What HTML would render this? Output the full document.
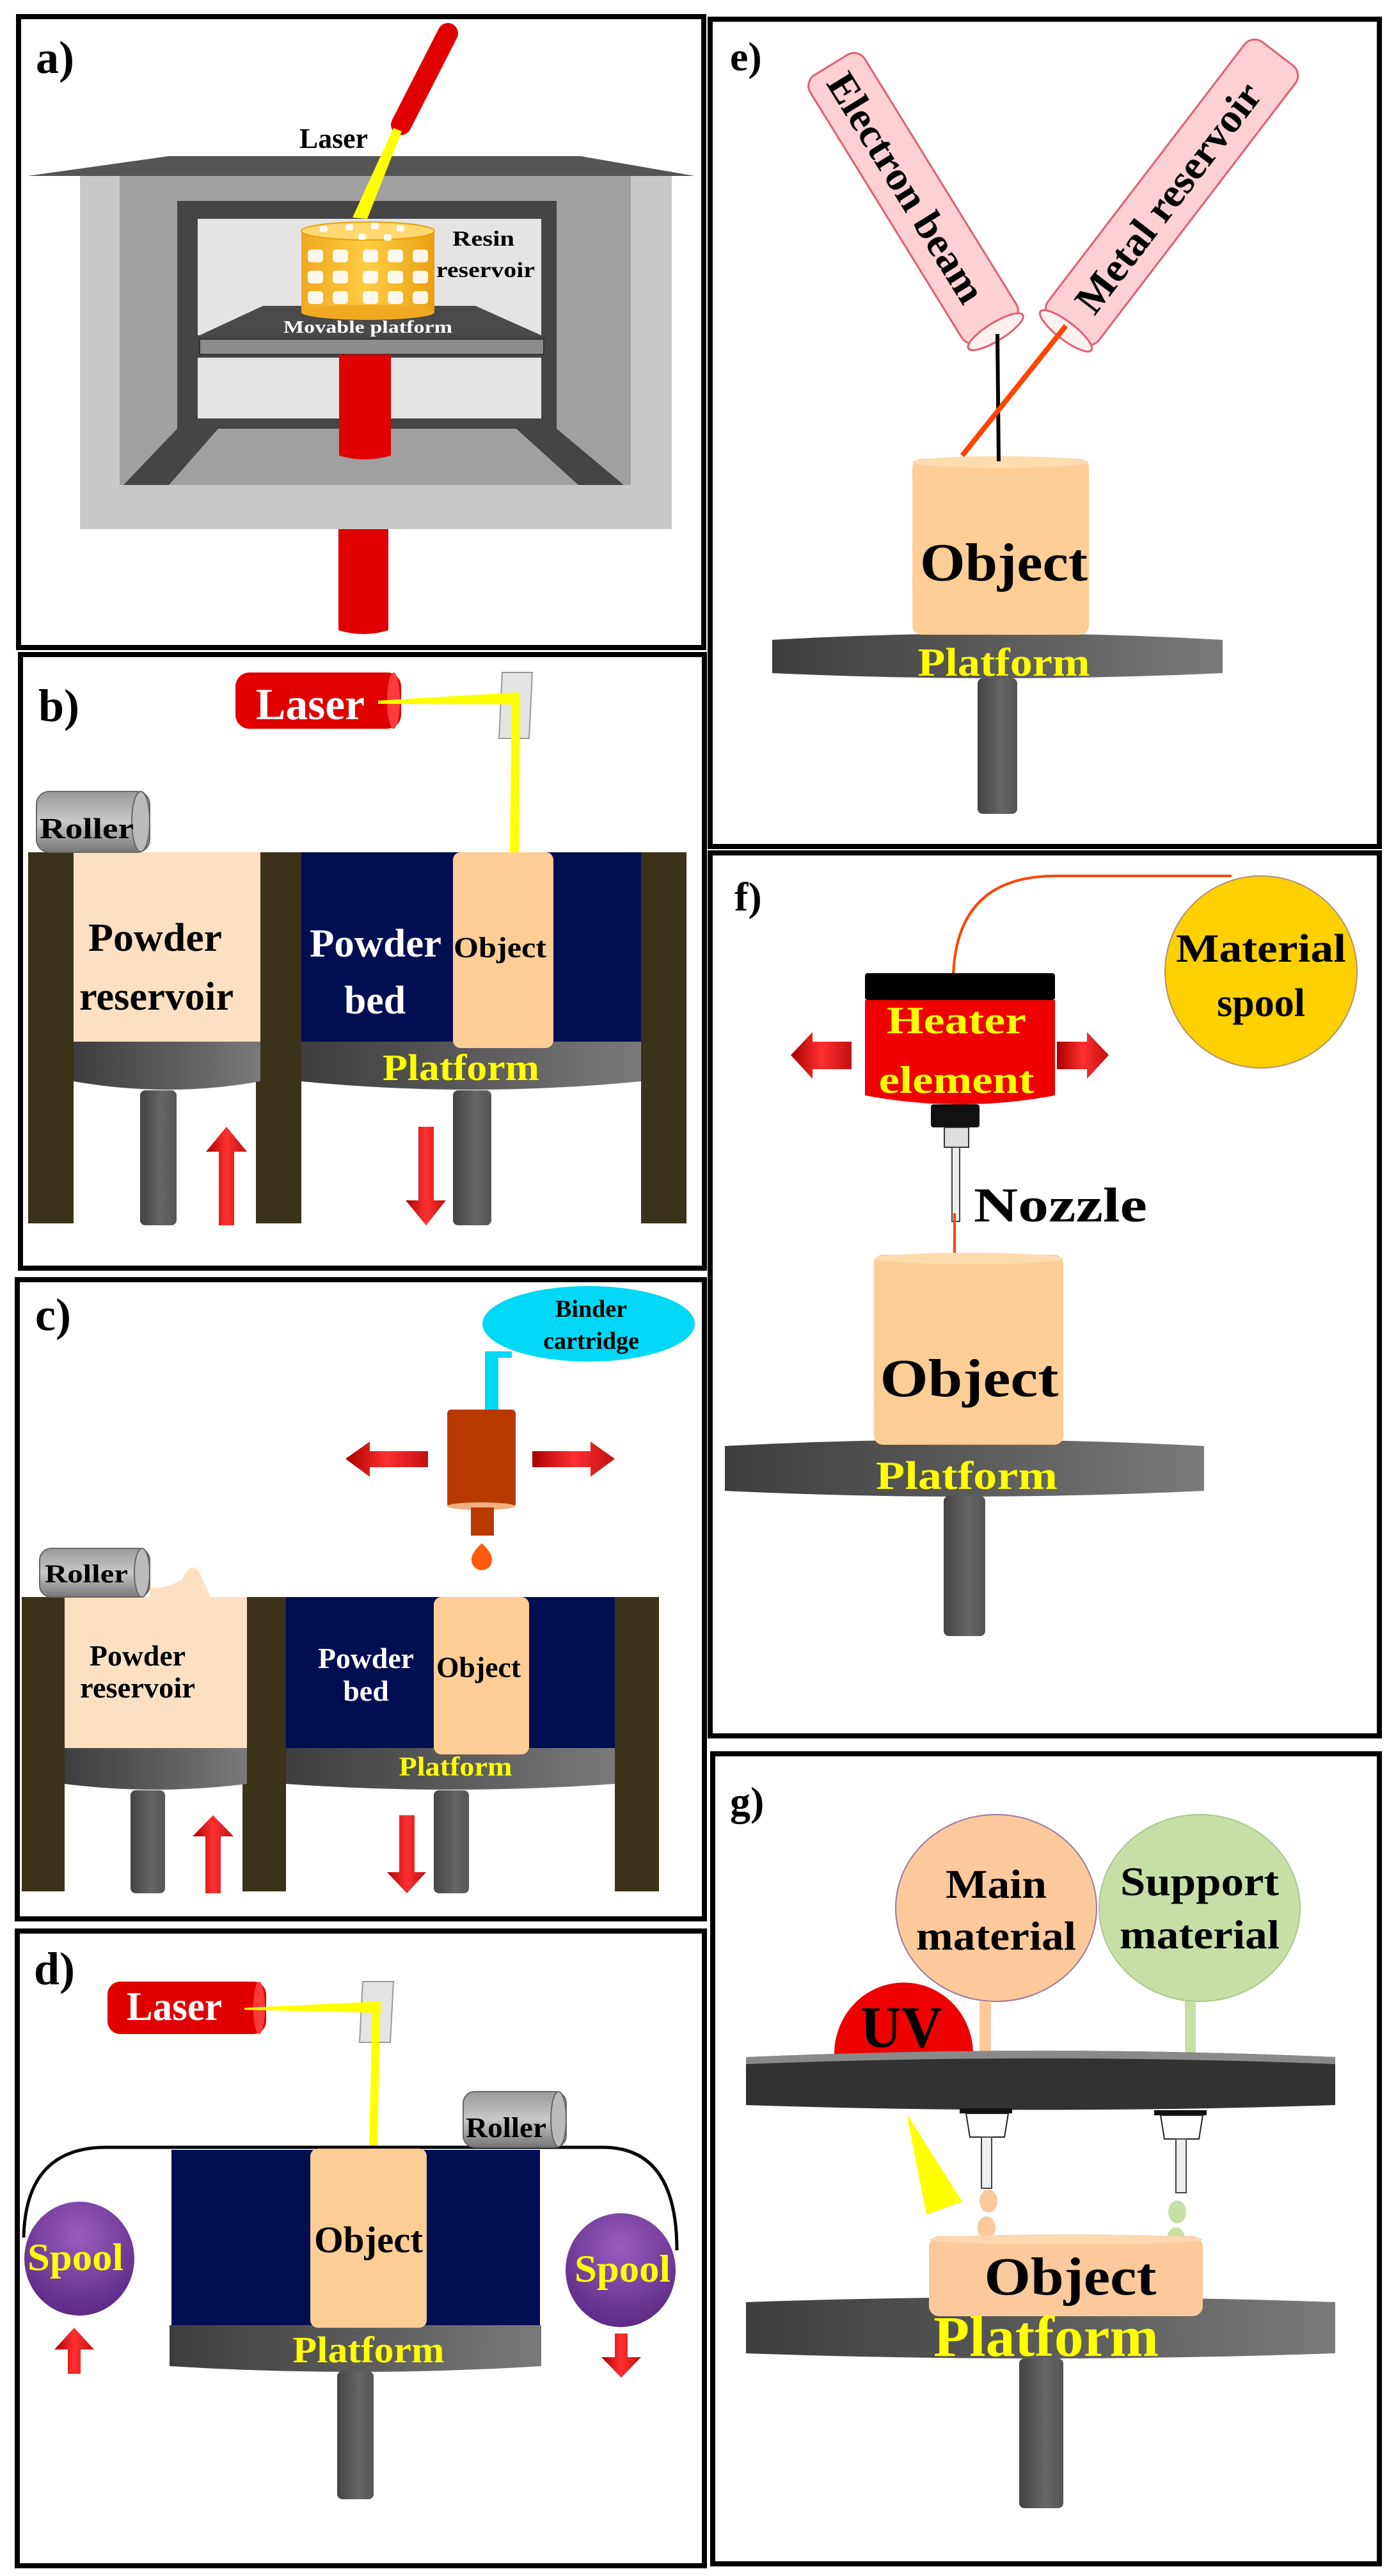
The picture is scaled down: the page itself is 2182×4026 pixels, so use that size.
<!DOCTYPE html>
<html><head><meta charset="utf-8"><style>
html,body{margin:0;padding:0;background:#fff}
svg{display:block}
text{font-family:"Liberation Serif",serif;font-weight:bold}
</style></head><body>
<svg width="2182" height="4026" viewBox="0 0 2182 4026" xmlns="http://www.w3.org/2000/svg">
<defs>
<linearGradient id="gp" x1="0" y1="0" x2="1" y2="0"><stop offset="0" stop-color="#3e3e3e"/><stop offset="0.5" stop-color="#5a5a5a"/><stop offset="1" stop-color="#7a7a7a"/></linearGradient>
<linearGradient id="gs" x1="0" y1="0" x2="1" y2="0"><stop offset="0" stop-color="#444"/><stop offset="0.6" stop-color="#666"/><stop offset="1" stop-color="#555"/></linearGradient>
<linearGradient id="gr" x1="0" y1="0" x2="0" y2="1"><stop offset="0" stop-color="#9a9a9a"/><stop offset="0.5" stop-color="#c8c8c8"/><stop offset="1" stop-color="#777"/></linearGradient>
<linearGradient id="ga" x1="0" y1="0" x2="1" y2="0"><stop offset="0" stop-color="#a80000"/><stop offset="0.5" stop-color="#ff3030"/><stop offset="1" stop-color="#c01010"/></linearGradient>
<linearGradient id="gy" x1="0" y1="0" x2="1" y2="0"><stop offset="0" stop-color="#f0a820"/><stop offset="0.5" stop-color="#ffcc44"/><stop offset="1" stop-color="#e8a010"/></linearGradient>
<radialGradient id="gsp" cx="0.5" cy="0.3" r="0.7"><stop offset="0" stop-color="#9a5cc0"/><stop offset="1" stop-color="#5d2a85"/></radialGradient>
</defs>
<g fill="none" stroke="#000" stroke-width="8">
<rect x="29" y="26" width="1071" height="986"/>
<rect x="32" y="1023" width="1069" height="959"/>
<rect x="27" y="2000" width="1074" height="999"/>
<rect x="27" y="3018" width="1074" height="992"/>
<rect x="1110" y="30" width="1046" height="1293"/>
<rect x="1110" y="1333" width="1046" height="1380"/>
<rect x="1114" y="2741" width="1042" height="1266"/>
</g>

<!-- Panel a -->
<text x="56" y="114" font-size="72">a)</text>
<polygon points="43,275 264,244 907,244 1086,275" fill="#555"/>
<rect x="125" y="275" width="925" height="552" fill="#c8c8c8"/>
<rect x="187" y="275" width="799" height="483" fill="#a0a0a0"/>
<polygon points="277,314 870,314 870,670 975,758 193,758 277,670" fill="#454545"/>
<polygon points="341,670 807,670 904,758 264,758" fill="#a0a0a0"/>
<rect x="309" y="342" width="537" height="182" fill="#e4e4e4"/>
<rect x="309" y="559" width="537" height="95" fill="#e4e4e4"/>
<polygon points="411,478 743,478 846,524 312,524" fill="#4a4a4a"/>
<rect x="312" y="530" width="538" height="24" fill="#8c8c8c" stroke="#333" stroke-width="2"/>
<path d="M530,554 H611 V712 Q570,724 530,712 Z" fill="#e00000"/>
<path d="M529,827 H607 V985 Q568,997 529,985 Z" fill="#e00000"/>
<line x1="627" y1="195" x2="700" y2="52" stroke="#e00000" stroke-width="32" stroke-linecap="round"/>
<polygon points="615,200 628,205 574,342 551,340" fill="#ffff00"/>
<text x="468" y="231" font-size="44" textLength="107" lengthAdjust="spacingAndGlyphs">Laser</text>
<rect x="471" y="361" width="208" height="127" fill="url(#gy)"/>
<ellipse cx="575" cy="488" rx="104" ry="12" fill="#f0a820"/>
<ellipse cx="575" cy="361" rx="104" ry="14" fill="#ffd870" stroke="#e8a010" stroke-width="2"/>
<g fill="#fff" opacity="0.9">
<rect x="481" y="390" width="24" height="20" rx="5"/><rect x="520" y="390" width="24" height="20" rx="5"/><rect x="567" y="390" width="24" height="20" rx="5"/><rect x="606" y="390" width="24" height="20" rx="5"/><rect x="645" y="390" width="24" height="20" rx="5"/>
<rect x="481" y="423" width="24" height="20" rx="5"/><rect x="520" y="423" width="24" height="20" rx="5"/><rect x="567" y="423" width="24" height="20" rx="5"/><rect x="606" y="423" width="24" height="20" rx="5"/><rect x="645" y="423" width="24" height="20" rx="5"/>
<rect x="481" y="455" width="24" height="20" rx="5"/><rect x="520" y="455" width="24" height="20" rx="5"/><rect x="567" y="455" width="24" height="20" rx="5"/><rect x="606" y="455" width="24" height="20" rx="5"/><rect x="645" y="455" width="24" height="20" rx="5"/>
<rect x="500" y="353" width="12" height="10" rx="3"/><rect x="540" y="350" width="12" height="10" rx="3"/><rect x="580" y="348" width="12" height="10" rx="3"/><rect x="620" y="352" width="12" height="10" rx="3"/><rect x="560" y="365" width="12" height="10" rx="3"/><rect x="600" y="366" width="12" height="10" rx="3"/>
</g>
<text x="707" y="384" font-size="34" textLength="97" lengthAdjust="spacingAndGlyphs">Resin</text>
<text x="682" y="433" font-size="34" textLength="154" lengthAdjust="spacingAndGlyphs">reservoir</text>
<text x="443" y="520" font-size="27" fill="#fff" textLength="264" lengthAdjust="spacingAndGlyphs">Movable platform</text>

<!-- Panel b -->
<text x="60" y="1127" font-size="72">b)</text>
<rect x="368" y="1051" width="259" height="88" rx="22" fill="#e00000"/>
<ellipse cx="615" cy="1095" rx="10" ry="44" fill="#ff3a3a"/>
<text x="400" y="1124" font-size="70" fill="#fff" textLength="170" lengthAdjust="spacingAndGlyphs">Laser</text>
<polygon points="785,1051 832,1051 827,1154 780,1154" fill="#e4e4e4" stroke="#999" stroke-width="2"/>
<polygon points="591,1095 811,1082 811,1101 591,1100" fill="#ffff00"/>
<polygon points="800,1090 813,1090 811,1334 797,1334" fill="#ffff00"/>
<rect x="44" y="1332" width="71" height="580" fill="#3a3319"/>
<rect x="400" y="1332" width="71" height="580" fill="#3a3319"/>
<rect x="1002" y="1332" width="71" height="580" fill="#3a3319"/>
<rect x="115" y="1332" width="292" height="296" fill="#fde0c2"/>
<rect x="471" y="1332" width="531" height="296" fill="#000e52"/>
<path d="M115,1628 H407 V1690 Q261,1716 115,1690 Z" fill="url(#gp)"/>
<path d="M471,1628 H1002 V1690 Q736,1716 471,1690 Z" fill="url(#gp)"/>
<rect x="708" y="1332" width="157" height="306" rx="12" fill="#fdcd96"/>
<rect x="219" y="1704" width="57" height="211" rx="8" fill="url(#gs)"/>
<rect x="708" y="1704" width="60" height="211" rx="8" fill="url(#gs)"/>
<polygon points="342,1915 366,1915 366,1800 386,1800 354,1761 322,1800 342,1800" fill="url(#ga)"/>
<polygon points="654,1761 678,1761 678,1876 697,1876 666,1915 634,1876 654,1876" fill="url(#ga)"/>
<rect x="57" y="1237" width="177" height="95" rx="20" fill="url(#gr)" stroke="#666" stroke-width="2"/>
<ellipse cx="220" cy="1284" rx="14" ry="47" fill="#bbb" stroke="#666" stroke-width="2"/>
<text x="62" y="1310" font-size="46" textLength="147" lengthAdjust="spacingAndGlyphs">Roller</text>
<text x="138" y="1486" font-size="62" textLength="209" lengthAdjust="spacingAndGlyphs">Powder</text>
<text x="124" y="1578" font-size="62" textLength="241" lengthAdjust="spacingAndGlyphs">reservoir</text>
<text x="484" y="1495" font-size="62" fill="#fff" textLength="206" lengthAdjust="spacingAndGlyphs">Powder</text>
<text x="538" y="1584" font-size="62" fill="#fff" textLength="96" lengthAdjust="spacingAndGlyphs">bed</text>
<text x="709" y="1496" font-size="46" textLength="145" lengthAdjust="spacingAndGlyphs">Object</text>
<text x="598" y="1688" font-size="58" fill="#ffff00" textLength="245" lengthAdjust="spacingAndGlyphs">Platform</text>

<!-- Panel c -->
<text x="55" y="2079" font-size="72">c)</text>
<ellipse cx="920" cy="2069" rx="166" ry="59" fill="#00d8f5"/>
<text x="924" y="2058" font-size="38" text-anchor="middle">Binder</text>
<text x="924" y="2108" font-size="38" text-anchor="middle">cartridge</text>
<polygon points="758,2112 800,2112 800,2122 779,2122 779,2205 758,2205" fill="#00d8f5"/>
<rect x="699" y="2203" width="107" height="153" rx="6" fill="#b83a00"/>
<ellipse cx="752" cy="2354" rx="53" ry="6" fill="#f0b080"/>
<rect x="736" y="2356" width="36" height="44" fill="#b83a00"/>
<path d="M753,2412 Q770,2428 769,2438 A16,16 0 1 1 737,2438 Q736,2428 753,2412 Z" fill="#ff5a10"/>
<polygon points="540,2280 578,2253 578,2268 669,2268 669,2293 578,2293 578,2308" fill="url(#ga)"/>
<polygon points="961,2280 923,2253 923,2268 832,2268 832,2293 923,2293 923,2308" fill="url(#ga)"/>
<rect x="34" y="2496" width="67" height="460" fill="#3a3319"/>
<rect x="379" y="2496" width="68" height="460" fill="#3a3319"/>
<rect x="961" y="2496" width="69" height="460" fill="#3a3319"/>
<rect x="101" y="2496" width="285" height="236" fill="#fde0c2"/>
<path d="M234,2496 L234,2482 Q265,2482 285,2468 Q298,2440 310,2455 Q322,2478 329,2496 Z" fill="#fde0c2"/>
<rect x="447" y="2496" width="514" height="236" fill="#000e52"/>
<path d="M101,2732 H386 V2788 Q243,2806 101,2788 Z" fill="url(#gp)"/>
<path d="M447,2732 H961 V2788 Q704,2806 447,2788 Z" fill="url(#gp)"/>
<rect x="678" y="2496" width="149" height="246" rx="12" fill="#fdcd96"/>
<rect x="204" y="2798" width="54" height="161" rx="8" fill="url(#gs)"/>
<rect x="678" y="2798" width="55" height="161" rx="8" fill="url(#gs)"/>
<polygon points="321,2959 345,2959 345,2870 365,2870 333,2837 301,2870 321,2870" fill="url(#ga)"/>
<polygon points="624,2837 648,2837 648,2926 666,2926 636,2959 605,2926 624,2926" fill="url(#ga)"/>
<rect x="62" y="2420" width="172" height="76" rx="18" fill="url(#gr)" stroke="#666" stroke-width="2"/>
<ellipse cx="222" cy="2458" rx="12" ry="38" fill="#bbb" stroke="#666" stroke-width="2"/>
<text x="70" y="2473" font-size="40" textLength="130" lengthAdjust="spacingAndGlyphs">Roller</text>
<text x="215" y="2603" font-size="46" text-anchor="middle" textLength="150" lengthAdjust="spacingAndGlyphs">Powder</text>
<text x="215" y="2653" font-size="46" text-anchor="middle" textLength="180" lengthAdjust="spacingAndGlyphs">reservoir</text>
<text x="572" y="2607" font-size="46" fill="#fff" text-anchor="middle" textLength="150" lengthAdjust="spacingAndGlyphs">Powder</text>
<text x="572" y="2658" font-size="46" fill="#fff" text-anchor="middle">bed</text>
<text x="748" y="2621" font-size="46" text-anchor="middle" textLength="132" lengthAdjust="spacingAndGlyphs">Object</text>
<text x="712" y="2775" font-size="42" fill="#ffff00" text-anchor="middle" textLength="177" lengthAdjust="spacingAndGlyphs">Platform</text>

<!-- Panel d -->
<text x="53" y="3101" font-size="72">d)</text>
<rect x="168" y="3097" width="248" height="82" rx="20" fill="#e00000"/>
<ellipse cx="405" cy="3138" rx="9" ry="41" fill="#ff3a3a"/>
<text x="198" y="3157" font-size="64" fill="#fff" textLength="149" lengthAdjust="spacingAndGlyphs">Laser</text>
<polygon points="567,3097 615,3097 610,3192 562,3192" fill="#e4e4e4" stroke="#999" stroke-width="2"/>
<polygon points="382,3138 595,3128 595,3146 382,3141" fill="#ffff00"/>
<polygon points="582,3135 594,3135 590,3358 577,3358" fill="#ffff00"/>
<path d="M37,3497 Q40,3356 166,3356 H942 Q1058,3356 1058,3517" fill="none" stroke="#000" stroke-width="5"/>
<rect x="268" y="3360" width="576" height="274" fill="#000e52"/>
<path d="M265,3634 H846 V3698 Q556,3716 265,3698 Z" fill="url(#gp)"/>
<rect x="485" y="3358" width="182" height="280" rx="12" fill="#fdcd96"/>
<rect x="527" y="3706" width="57" height="200" rx="8" fill="url(#gs)"/>
<rect x="724" y="3269" width="161" height="87" rx="18" fill="url(#gr)" stroke="#666" stroke-width="2"/>
<ellipse cx="873" cy="3312" rx="12" ry="43" fill="#bbb" stroke="#666" stroke-width="2"/>
<text x="728" y="3340" font-size="44" textLength="126" lengthAdjust="spacingAndGlyphs">Roller</text>
<ellipse cx="124" cy="3530" rx="86" ry="89" fill="url(#gsp)"/>
<ellipse cx="970" cy="3548" rx="86" ry="89" fill="url(#gsp)"/>
<text x="118" y="3548" font-size="60" fill="#ffff00" text-anchor="middle" textLength="150" lengthAdjust="spacingAndGlyphs">Spool</text>
<text x="973" y="3566" font-size="60" fill="#ffff00" text-anchor="middle" textLength="150" lengthAdjust="spacingAndGlyphs">Spool</text>
<polygon points="106,3710 126,3710 126,3672 147,3672 116,3638 85,3672 106,3672" fill="url(#ga)"/>
<polygon points="961,3647 981,3647 981,3684 1002,3684 971,3716 940,3684 961,3684" fill="url(#ga)"/>
<text x="576" y="3520" font-size="58" text-anchor="middle" textLength="170" lengthAdjust="spacingAndGlyphs">Object</text>
<text x="576" y="3692" font-size="58" fill="#ffff00" text-anchor="middle" textLength="237" lengthAdjust="spacingAndGlyphs">Platform</text>

<!-- Panel e -->
<text x="1141" y="110" font-size="64">e)</text>
<g transform="translate(1304,110) rotate(58.3)">
<rect x="-10" y="-50" width="490" height="100" rx="20" fill="#fdd0d4" stroke="#e06070" stroke-width="3"/>
<ellipse cx="480" cy="0" rx="14" ry="50" fill="#fff0f0" stroke="#e06070" stroke-width="3"/>
<text x="10" y="22" font-size="64" transform="rotate(0)" textLength="410" lengthAdjust="spacingAndGlyphs">Electron beam</text>
</g>
<g transform="translate(1666,517) rotate(-52.6)">
<rect x="0" y="-50" width="545" height="100" rx="20" fill="#fdd0d4" stroke="#e06070" stroke-width="3"/>
<ellipse cx="0" cy="0" rx="14" ry="50" fill="#fff0f0" stroke="#e06070" stroke-width="3"/>
<text x="45" y="22" font-size="64" textLength="435" lengthAdjust="spacingAndGlyphs">Metal reservoir</text>
</g>
<path d="M1207,1000 Q1559,980 1911,1000 V1052 Q1559,1068 1207,1052 Z" fill="url(#gp)"/>
<rect x="1528" y="1060" width="62" height="212" rx="8" fill="url(#gs)"/>
<rect x="1426" y="717" width="276" height="275" rx="14" fill="#fdcd96"/>
<ellipse cx="1564" cy="722" rx="138" ry="9" fill="#fddcb0"/>
<line x1="1559" y1="522" x2="1561" y2="721" stroke="#000" stroke-width="6"/>
<line x1="1666" y1="509" x2="1504" y2="712" stroke="#ff4400" stroke-width="8"/>
<text x="1569" y="907" font-size="84" text-anchor="middle" textLength="262" lengthAdjust="spacingAndGlyphs">Object</text>
<text x="1569" y="1056" font-size="62" fill="#ffff00" text-anchor="middle" textLength="269" lengthAdjust="spacingAndGlyphs">Platform</text>

<!-- Panel f -->
<text x="1148" y="1423" font-size="64">f)</text>
<ellipse cx="1971" cy="1519" rx="150" ry="150" fill="#ffd000" stroke="#b09070" stroke-width="2"/>
<text x="1971" y="1503" font-size="62" text-anchor="middle" textLength="266" lengthAdjust="spacingAndGlyphs">Material</text>
<text x="1971" y="1588" font-size="62" text-anchor="middle">spool</text>
<path d="M1925,1369 H1652 Q1495,1368 1490,1525" fill="none" stroke="#ff4400" stroke-width="4"/>
<path d="M1352,1563 H1649 V1712 Q1500,1740 1352,1712 Z" fill="#ee0000"/>
<rect x="1352" y="1521" width="297" height="42" rx="4" fill="#000"/>
<text x="1495" y="1615" font-size="60" fill="#ffff00" text-anchor="middle" textLength="218" lengthAdjust="spacingAndGlyphs">Heater</text>
<text x="1495" y="1708" font-size="60" fill="#ffff00" text-anchor="middle" textLength="243" lengthAdjust="spacingAndGlyphs">element</text>
<rect x="1455" y="1726" width="76" height="36" rx="4" fill="#111"/>
<rect x="1476" y="1762" width="38" height="31" fill="#ddd" stroke="#333" stroke-width="2"/>
<rect x="1488" y="1793" width="12" height="116" fill="#eee" stroke="#444" stroke-width="2"/>
<line x1="1492" y1="1896" x2="1492" y2="1999" stroke="#ff4400" stroke-width="4"/>
<polygon points="1236,1649 1270,1613 1270,1628 1331,1628 1331,1671 1270,1671 1270,1686" fill="url(#ga)"/>
<polygon points="1733,1649 1699,1613 1699,1628 1652,1628 1652,1671 1699,1671 1699,1686" fill="url(#ga)"/>
<text x="1522" y="1909" font-size="76" textLength="271" lengthAdjust="spacingAndGlyphs">Nozzle</text>
<path d="M1133,2260 Q1507,2240 1882,2260 V2330 Q1507,2348 1133,2330 Z" fill="url(#gp)"/>
<rect x="1475" y="2338" width="65" height="219" rx="8" fill="url(#gs)"/>
<rect x="1366" y="1961" width="296" height="297" rx="14" fill="#fdcd96"/>
<ellipse cx="1514" cy="1967" rx="148" ry="9" fill="#fddcb0"/>
<text x="1515" y="2182" font-size="84" text-anchor="middle" textLength="279" lengthAdjust="spacingAndGlyphs">Object</text>
<text x="1511" y="2327" font-size="62" fill="#ffff00" text-anchor="middle" textLength="284" lengthAdjust="spacingAndGlyphs">Platform</text>

<!-- Panel g -->
<text x="1141" y="2837" font-size="64">g)</text>
<ellipse cx="1557" cy="2982" rx="157" ry="146" fill="#fbc99b" stroke="#9a7aa0" stroke-width="2"/>
<ellipse cx="1875" cy="2982" rx="157" ry="146" fill="#c7dfa6" stroke="#a8c88a" stroke-width="2"/>
<text x="1557" y="2966" font-size="64" text-anchor="middle" textLength="158" lengthAdjust="spacingAndGlyphs">Main</text>
<text x="1557" y="3047" font-size="64" text-anchor="middle" textLength="250" lengthAdjust="spacingAndGlyphs">material</text>
<text x="1875" y="2962" font-size="64" text-anchor="middle" textLength="248" lengthAdjust="spacingAndGlyphs">Support</text>
<text x="1875" y="3045" font-size="64" text-anchor="middle" textLength="250" lengthAdjust="spacingAndGlyphs">material</text>
<rect x="1531" y="3128" width="18" height="92" fill="#fbc99b"/>
<rect x="1852" y="3128" width="17" height="92" fill="#c7dfa6"/>
<path d="M1304,3210 A108,111 0 0 1 1521,3210 Z" fill="#ee0000"/>
<text x="1409" y="3199" font-size="92" text-anchor="middle" textLength="128" lengthAdjust="spacingAndGlyphs">UV</text>
<path d="M1166,3215 Q1626,3195 2087,3215 V3290 Q1626,3305 1166,3290 Z" fill="#323232"/>
<path d="M1166,3215 Q1626,3195 2087,3215 V3226 Q1626,3208 1166,3226 Z" fill="#8a8a8a"/>
<polygon points="1417,3303 1448,3461 1504,3441" fill="#ffff00"/>
<rect x="1500" y="3295" width="82" height="8" fill="#111"/>
<path d="M1510,3303 H1576 L1570,3340 H1516 Z" fill="#fff" stroke="#222" stroke-width="2"/>
<rect x="1534" y="3340" width="16" height="80" fill="#eee" stroke="#444" stroke-width="2"/>
<rect x="1804" y="3298" width="82" height="8" fill="#111"/>
<path d="M1814,3306 H1880 L1874,3343 H1820 Z" fill="#fff" stroke="#222" stroke-width="2"/>
<rect x="1838" y="3343" width="16" height="84" fill="#eee" stroke="#444" stroke-width="2"/>
<ellipse cx="1545" cy="3440" rx="14" ry="18" fill="#fbc99b"/>
<ellipse cx="1542" cy="3482" rx="14" ry="18" fill="#fbc99b"/>
<ellipse cx="1840" cy="3457" rx="14" ry="18" fill="#c7dfa6"/>
<ellipse cx="1838" cy="3499" rx="14" ry="18" fill="#c7dfa6"/>
<path d="M1166,3598 Q1626,3582 2087,3598 V3678 Q1626,3694 1166,3678 Z" fill="url(#gp)"/>
<rect x="1593" y="3686" width="69" height="234" rx="8" fill="url(#gs)"/>
<rect x="1452" y="3495" width="428" height="125" rx="16" fill="#fbc99b"/>
<ellipse cx="1666" cy="3500" rx="214" ry="8" fill="#fdd8b0"/>
<text x="1673" y="3586" font-size="84" text-anchor="middle" textLength="269" lengthAdjust="spacingAndGlyphs">Object</text>
<text x="1635" y="3682" font-size="90" fill="#ffff00" text-anchor="middle" textLength="352" lengthAdjust="spacingAndGlyphs">Platform</text>
</svg>
</body></html>
